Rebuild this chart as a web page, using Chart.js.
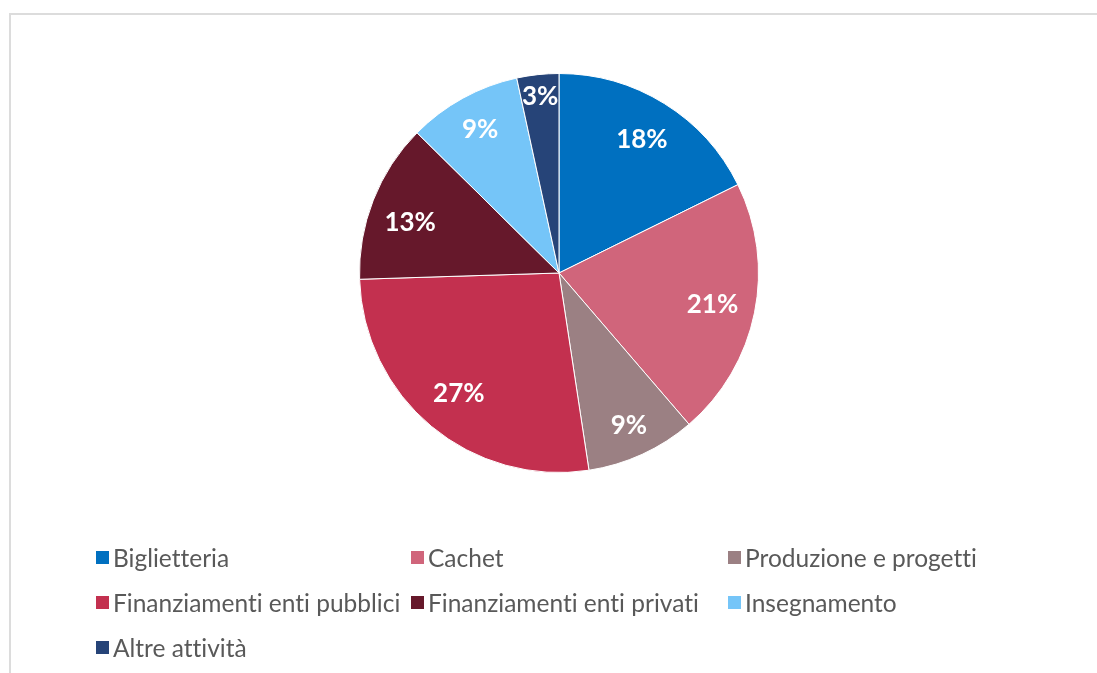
<!DOCTYPE html>
<html>
<head>
<meta charset="utf-8">
<script src="https://cdn.jsdelivr.net/npm/chart.js@4"></script>
<style>
  html, body { margin: 0; padding: 0; background: #fff; }
  #wrap { position: relative; width: 1097px; height: 673px; overflow: hidden; }
  #frame { position: absolute; left: 9px; top: 13px; width: 1100px; height: 700px;
           border-left: 2px solid #dcdcdc; border-top: 2px solid #dcdcdc; box-sizing: border-box; }
  canvas { position: absolute; left: 0; top: 0; }
  #legend { position: absolute; left: 96px; top: 541px; width: 1000px;
            font-family: Lato, "Open Sans", sans-serif; font-size: 24.5px; color: #595959;
            font-variant-ligatures: none; }
  .item { position: absolute; display: flex; align-items: center; white-space: nowrap; height: 32px; }
  .sw { width: 13px; height: 13px; margin-right: 4px; flex: none; }
</style>
</head>
<body>
<div id="wrap">
  <div id="frame"></div>
  <canvas id="c" width="1097" height="673"></canvas>
  <div id="legend"></div>
</div>
<script>
// Revenue sources (share, %)
const categories = [
  "Biglietteria",
  "Cachet",
  "Produzione e progetti",
  "Finanziamenti enti pubblici",
  "Finanziamenti enti privati",
  "Insegnamento",
  "Altre attività"
];
const shares = [17.7, 21.0, 8.9, 26.9, 12.9, 9.2, 3.4];
const colors = ["#0070C0", "#D0657B", "#9B8083", "#C3304F", "#66182B", "#75C5F8", "#264478"];

// Label radius as a fraction of the pie radius (small slices pushed outward)
const labelRadius = [0.787, 0.785, 0.84, 0.785, 0.787, 0.82, 0.89];
// Small angular nudge (radians) of each label from the slice's middle
const labelNudge = [0, 0, 0, 0, -0.05, 0, 0];

const sliceLabels = {
  id: "sliceLabels",
  afterDatasetsDraw(chart) {
    const { ctx } = chart;
    const meta = chart.getDatasetMeta(0);
    const total = shares.reduce((a, b) => a + b, 0);
    ctx.save();
    ctx.fillStyle = "#ffffff";
    ctx.font = "bold 26px Lato, 'Open Sans', sans-serif";
    ctx.textAlign = "center";
    ctx.textBaseline = "middle";
    meta.data.forEach((arc, i) => {
      const p = arc.getProps(["x", "y", "startAngle", "endAngle", "outerRadius"], true);
      const mid = (p.startAngle + p.endAngle) / 2 + labelNudge[i];
      const r = p.outerRadius * labelRadius[i];
      const pct = Math.round(shares[i] / total * 100);
      ctx.fillText(pct + "%", p.x + Math.cos(mid) * r, p.y + Math.sin(mid) * r);
    });
    ctx.restore();
  }
};

new Chart(document.getElementById("c"), {
  type: "pie",
  data: {
    labels: categories,
    datasets: [{
      data: shares,
      backgroundColor: colors,
      borderColor: "#ffffff",
      borderWidth: 1
    }]
  },
  options: {
    responsive: false,
    animation: false,
    layout: { padding: { left: 359, right: 338, top: 73, bottom: 200 } },
    plugins: { legend: { display: false }, tooltip: { enabled: false } }
  },
  plugins: [sliceLabels]
});

// Legend in three columns
const legend = document.getElementById("legend");
const colX = [0, 315, 632];
const rowY = [0, 45, 90];
categories.forEach((name, i) => {
  const el = document.createElement("div");
  el.className = "item";
  el.style.left = colX[i % 3] + "px";
  el.style.top = rowY[Math.floor(i / 3)] + "px";
  const sw = document.createElement("span");
  sw.className = "sw";
  sw.style.background = colors[i];
  const tx = document.createElement("span");
  tx.textContent = name;
  el.appendChild(sw);
  el.appendChild(tx);
  legend.appendChild(el);
});
</script>
</body>
</html>
